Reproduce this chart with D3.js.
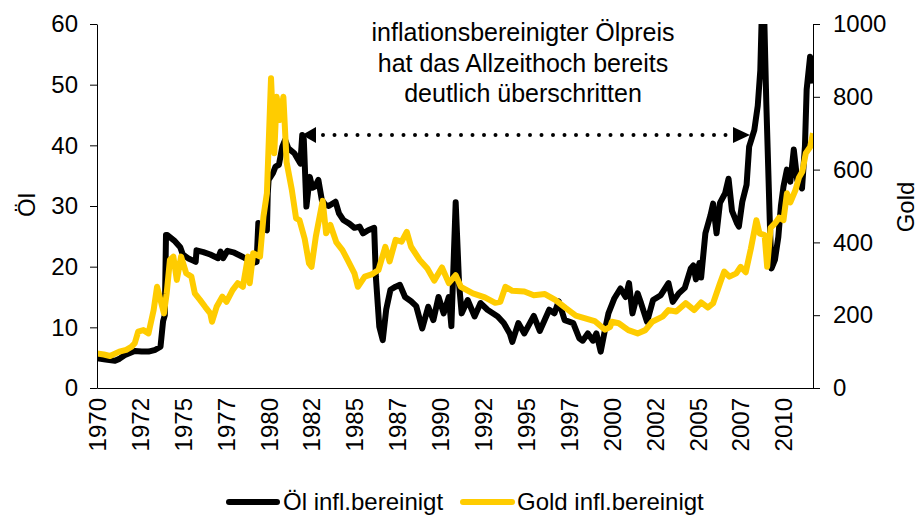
<!DOCTYPE html>
<html>
<head>
<meta charset="utf-8">
<script src="https://cdn.jsdelivr.net/npm/d3@7/dist/d3.min.js"></script>
<style>
  html, body { margin: 0; padding: 0; background: #fff; }
  svg { display: block; }
  text { font-family: "Liberation Sans", Arial, sans-serif; fill: #000; }
</style>
</head>
<body>
<svg id="chart" width="920" height="523"></svg>
<script>
// ---- data ----
const oilYears = [1970.0,1970.5,1971.05,1971.3,1971.6,1972.2,1972.6,1973.0,1973.4,1973.7,1973.85,1973.95,1974.02,1974.1,1974.5,1974.85,1975.0,1975.3,1975.6,1975.75,1975.8,1976.2,1976.6,1976.9,1977.05,1977.2,1977.35,1977.6,1978.0,1978.5,1979.1,1979.3,1979.4,1979.7,1979.9,1979.95,1980.0,1980.25,1980.4,1980.6,1980.8,1980.96,1981.15,1981.5,1981.85,1981.96,1982.05,1982.2,1982.4,1982.55,1982.7,1982.9,1983.1,1983.3,1983.5,1983.9,1984.1,1984.35,1984.7,1985.0,1985.3,1985.5,1985.8,1986.15,1986.25,1986.45,1986.65,1986.85,1987.1,1987.4,1987.65,1987.95,1988.3,1988.6,1988.95,1989.3,1989.6,1989.9,1990.2,1990.5,1990.65,1990.9,1991.1,1991.25,1991.6,1992.0,1992.35,1992.75,1993.35,1993.7,1994.05,1994.2,1994.55,1994.9,1995.45,1995.8,1996.35,1996.65,1996.9,1997.25,1997.75,1998.1,1998.3,1998.6,1998.9,1999.1,1999.35,1999.6,1999.8,2000.15,2000.5,2000.8,2001.0,2001.2,2001.5,2001.7,2002.05,2002.4,2002.85,2003.3,2003.55,2003.9,2004.25,2004.6,2004.75,2004.9,2005.1,2005.2,2005.45,2005.75,2005.9,2006.1,2006.3,2006.6,2006.8,2007.0,2007.3,2007.4,2007.6,2007.85,2008.0,2008.3,2008.5,2008.65,2008.73,2008.88,2009.0,2009.2,2009.3,2009.5,2009.7,2009.85,2010.0,2010.2,2010.4,2010.6,2010.8,2011.08,2011.25,2011.35,2011.55,2011.7];
const oilValues = [4.9,4.7,4.5,4.8,5.4,6.1,6.0,6.0,6.3,6.8,11.0,12.0,25.2,25.2,24.3,23.2,22.0,21.4,21.0,20.8,22.7,22.4,22.0,21.6,21.4,22.5,21.4,22.6,22.3,21.6,20.6,20.8,27.2,26.3,26.0,32.1,34.3,35.4,36.5,36.8,39.8,40.9,39.5,38.7,37.0,41.7,41.0,29.9,34.8,33.0,33.2,34.3,31.0,30.2,30.0,30.7,28.8,27.7,27.1,26.4,26.6,25.5,26.0,26.4,18.3,10.1,7.9,12.9,16.2,16.7,17.0,15.0,14.3,13.5,9.8,13.4,11.2,15.0,12.3,15.0,10.2,30.6,17.0,12.3,14.5,11.8,14.0,12.9,11.8,10.7,9.0,7.6,10.7,9.0,11.9,9.4,12.9,12.3,14.3,11.2,10.7,8.2,7.8,9.0,7.8,9.0,6.0,9.6,12.3,14.8,16.4,15.0,17.3,12.3,15.6,14.0,10.9,14.5,15.3,17.3,14.2,15.6,16.5,19.7,20.2,17.9,20.6,18.2,25.5,28.5,30.4,25.5,30.5,32.1,34.5,29.2,27.1,26.6,30.7,33.5,39.8,42.5,46.5,52.4,61.0,61.0,46.9,27.7,19.7,21.1,24.9,30.0,33.2,36.0,34.0,39.3,34.3,32.9,39.8,49.2,54.6,50.2];

const goldYears = [1970.0,1970.4,1970.76,1971.3,1971.7,1972.0,1972.2,1972.4,1972.7,1973.0,1973.3,1973.5,1973.7,1973.9,1974.06,1974.25,1974.45,1974.65,1974.9,1975.2,1975.5,1975.7,1976.0,1976.3,1976.6,1976.7,1976.97,1977.3,1977.55,1977.9,1978.2,1978.5,1978.8,1978.9,1979.1,1979.5,1979.7,1979.9,1980.14,1980.33,1980.47,1980.66,1980.86,1981.05,1981.35,1981.6,1981.8,1982.1,1982.35,1982.5,1982.75,1983.15,1983.35,1983.6,1983.95,1984.3,1984.6,1985.0,1985.2,1985.6,1986.0,1986.4,1986.8,1987.05,1987.4,1987.75,1988.05,1988.3,1988.8,1989.25,1989.65,1990.1,1990.5,1990.9,1991.2,1991.9,1992.6,1993.2,1993.5,1993.8,1994.2,1994.9,1995.45,1996.1,1996.7,1997.3,1997.9,1998.4,1999.0,1999.6,1999.9,2000.0,2000.4,2000.96,2001.5,2001.95,2002.35,2002.95,2003.3,2003.75,2004.3,2004.8,2005.2,2005.6,2005.9,2006.3,2006.55,2006.85,2007.25,2007.5,2007.8,2008.1,2008.42,2008.6,2008.9,2009.05,2009.25,2009.5,2009.75,2010.0,2010.2,2010.4,2010.7,2010.9,2011.1,2011.3,2011.55,2011.72];
const goldValues = [95,92,88,100,105,113,123,155,159,150,214,278,242,205,260,352,361,297,361,315,306,260,242,223,205,182,223,251,237,269,288,278,361,288,370,361,471,535,851,645,800,736,800,620,545,466,461,410,343,333,416,514,425,448,400,379,352,315,278,306,312,324,388,348,407,402,429,388,352,328,295,331,288,310,278,260,249,234,237,278,267,265,255,258,242,220,199,192,184,160,168,182,178,159,150,159,182,196,214,210,233,214,235,221,233,288,320,306,315,333,318,383,461,425,420,333,440,452,468,461,535,510,544,578,595,645,662,700];

const xTickYears  = [1970,1972.5,1975,1977.5,1980,1982.5,1985,1987.5,1990,1992.5,1995,1997.5,2000,2002.5,2005,2007.5,2010];
const xTickLabels = ["1970","1972","1975","1977","1980","1982","1985","1987","1990","1992","1995","1997","2000","2002","2005","2007","2010"];
const oilTicks  = [0,10,20,30,40,50,60];
const goldTicks = [0,200,400,600,800,1000];
const seriesNames = ["Öl infl.bereinigt","Gold infl.bereinigt"];
const seriesColors = ["#000000","#FFCC00"];
const annotationLines = ["inflationsbereinigter Ölpreis","hat das Allzeithoch bereits","deutlich überschritten"];

// ---- layout ----
const L = 97, R = 813, T = 24, B = 388;
const svg = d3.select("#chart");
const x = d3.scaleLinear().domain([1970, 2011.72]).range([L, R]);
const yOil = d3.scaleLinear().domain([0, 60]).range([B, T]);
const yGold = d3.scaleLinear().domain([0, 1000]).range([B, T]);
const FS = 24;
const SW = 6;

svg.append("defs").append("clipPath").attr("id", "plotclip")
  .append("rect").attr("x", L).attr("y", T).attr("width", R - L).attr("height", B - T);

// lines
const oilData = oilYears.map((d, i) => [d, oilValues[i]]);
const goldData = goldYears.map((d, i) => [d, goldValues[i]]);
const g = svg.append("g").attr("clip-path", "url(#plotclip)");
g.append("path").datum(oilData)
  .attr("d", d3.line().x(d => x(d[0])).y(d => yOil(d[1])))
  .attr("fill", "none").attr("stroke", seriesColors[0]).attr("stroke-width", SW)
  .attr("stroke-linejoin", "round");
g.append("path").datum(goldData)
  .attr("d", d3.line().x(d => x(d[0])).y(d => yGold(d[1])))
  .attr("fill", "none").attr("stroke", seriesColors[1]).attr("stroke-width", SW)
  .attr("stroke-linejoin", "round");

// axes
const axL = svg.append("g").attr("transform", `translate(${L},0)`)
  .call(d3.axisLeft(yOil).tickValues(oilTicks).tickSize(7).tickSizeOuter(0).tickPadding(12));
const axR = svg.append("g").attr("transform", `translate(${R},0)`)
  .call(d3.axisRight(yGold).tickValues(goldTicks).tickSize(7).tickSizeOuter(0).tickPadding(13)
        .tickFormat(d3.format("d")));
const axB = svg.append("g").attr("transform", `translate(0,${B})`)
  .call(d3.axisBottom(x).tickValues(xTickYears).tickSize(0).tickSizeOuter(0)
        .tickFormat((d, i) => xTickLabels[i]));
[axL, axR, axB].forEach(a => {
  a.selectAll("path,line").attr("stroke", "#000").attr("stroke-width", 1);
  a.selectAll("text").attr("font-size", FS).attr("font-family", "'Liberation Sans', Arial, sans-serif").attr("fill", "#000");
});
axB.selectAll(".tick text")
  .attr("transform", "rotate(-90)")
  .attr("text-anchor", "end")
  .attr("x", -10).attr("y", 0).attr("dy", "0.35em");

// axis titles
svg.append("text").attr("transform", "translate(35,205) rotate(-90)")
  .attr("text-anchor", "middle").attr("font-size", FS).text("Öl");
svg.append("text").attr("transform", "translate(914,207) rotate(-90)")
  .attr("text-anchor", "middle").attr("font-size", FS).text("Gold");

// annotation
annotationLines.forEach((t, i) => {
  svg.append("text").attr("x", 523).attr("y", 41 + i * 30.5)
    .attr("text-anchor", "middle").attr("font-size", 25).text(t);
});
const ay = 135;
svg.append("line").attr("x1", 323).attr("x2", 726).attr("y1", ay).attr("y2", ay)
  .attr("stroke", "#000").attr("stroke-width", 4).attr("stroke-linecap", "round")
  .attr("stroke-dasharray", "0 11.5");
svg.append("path").attr("d", `M302,${ay} L316,${ay - 8} L316,${ay + 8} Z`).attr("fill", "#000");
svg.append("path").attr("d", `M750,${ay} L733,${ay - 8} L733,${ay + 8} Z`).attr("fill", "#000");

// legend
const lg = svg.append("g");
const legendItems = [
  { x1: 229, x2: 277, tx: 283 },
  { x1: 463, x2: 512, tx: 517 }
];
legendItems.forEach((it, i) => {
  lg.append("line").attr("x1", it.x1).attr("x2", it.x2).attr("y1", 502).attr("y2", 502)
    .attr("stroke", seriesColors[i]).attr("stroke-width", SW).attr("stroke-linecap", "round");
  lg.append("text").attr("x", it.tx).attr("y", 510).attr("font-size", FS).text(seriesNames[i]);
});
</script>
</body>
</html>
